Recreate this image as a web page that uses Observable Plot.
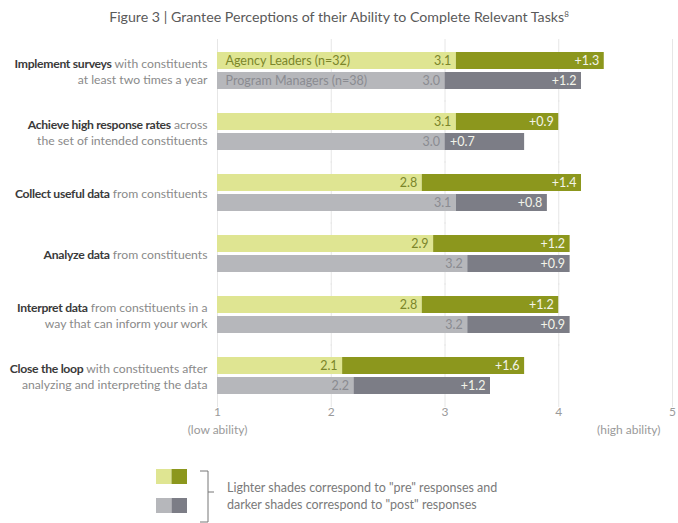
<!DOCTYPE html>
<html>
<head>
<meta charset="utf-8">
<script src="https://cdn.jsdelivr.net/npm/d3@7"></script>
<script src="https://cdn.jsdelivr.net/npm/@observablehq/plot@0.6"></script>
<style>
  html, body { margin: 0; padding: 0; background: #ffffff; }
  #wrap { position: relative; width: 678px; height: 523px; font-family: Lato, "Open Sans", sans-serif; overflow: hidden; }
  #title { position: absolute; left: 0; top: 8px; width: 678px; text-align: center; font-size: 14.2px; color: #5a5a5a; line-height: 18px; }
  #title sup { font-size: 8px; vertical-align: 5px; line-height: 0; }
  #chart { position: absolute; left: 0; top: 36px; }
  #legend { position: absolute; left: 0; top: 446px; }
</style>
</head>
<body>
<div id="wrap">
  <div id="title">Figure 3 | Grantee Perceptions of their Ability to Complete Relevant Tasks<sup>8</sup></div>
  <div id="chart"></div>
  <svg id="legend" width="678" height="77"></svg>
</div>
<script>
// ---- data ----
const tasks = ["Implement surveys", "Achieve high response rates", "Collect useful data", "Analyze data", "Interpret data", "Close the loop"];
const taskRest = [" with constituents", " across", " from constituents", " from constituents", " from constituents in a", " with constituents after"];
const taskLine2 = ["at least two times a year", "the set of intended constituents", "", "", "way that can inform your work", "analyzing and interpreting the data"];
const groups = ["Agency Leaders (n=32)", "Program Managers (n=38)"];
const agencyPre = [3.1, 3.1, 2.8, 2.9, 2.8, 2.1];
const agencyChange = [1.3, 0.9, 1.4, 1.2, 1.2, 1.6];
const managerPre = [3.0, 3.0, 3.1, 3.2, 3.2, 2.2];
const managerChange = [1.2, 0.7, 0.8, 0.9, 0.9, 1.2];
const xTicks = [1, 2, 3, 4, 5];
const scaleNotes = ["(low ability)", "(high ability)"];
const legendText = ["Lighter shades correspond to \"pre\" responses and", "darker shades correspond to \"post\" responses"];

// ---- colours ----
const lightGreen = "#dfe592", darkGreen = "#8c971d", lightGray = "#b6b7bb", darkGray = "#7c7d86";

const rows = tasks.flatMap((t, i) => [
  {task: t, group: groups[0], pre: agencyPre[i], change: agencyChange[i]},
  {task: t, group: groups[1], pre: managerPre[i], change: managerChange[i]}
]);
const labelRows = tasks.map((t, i) => ({task: t, line1: t + taskRest[i], line2: taskLine2[i]}));
const lastTask = tasks[tasks.length - 1];
const noteRows = [
  {task: lastTask, x: xTicks[0], text: scaleNotes[0]},
  {task: lastTask, x: xTicks[xTicks.length - 1], text: scaleNotes[1]}
];

const short = d => d.change < 0.75;
const groupText = ["#7b852a", "#8a8b91"];

const chart = Plot.plot({
  width: 678,
  height: 410,
  marginTop: 14,
  marginBottom: 51,
  marginLeft: 217,
  marginRight: 6,
  style: {fontFamily: "Lato, 'Open Sans', sans-serif", fontSize: "12px", background: "transparent"},
  x: {domain: [xTicks[0], xTicks[xTicks.length - 1]], ticks: xTicks, tickSize: 0, tickPadding: 13, label: null, tickFormat: d => String(d)},
  fy: {domain: tasks, paddingInner: 0.398, paddingOuter: 0, axis: null, label: null},
  y: {domain: groups, paddingInner: 0.15, paddingOuter: 0, axis: null, label: null},
  color: {
    domain: [groups[0] + "|pre", groups[0] + "|post", groups[1] + "|pre", groups[1] + "|post"],
    range: [lightGreen, darkGreen, lightGray, darkGray]
  },
  marks: [
    Plot.ruleX(xTicks, {stroke: "#e6e6e6", strokeWidth: 1, insetTop: -13, insetBottom: -13}),
    Plot.barX(rows, {fy: "task", y: "group", x1: () => xTicks[0], x2: "pre", fill: d => d.group + "|pre"}),
    Plot.barX(rows, {fy: "task", y: "group", x1: "pre", x2: d => d.pre + d.change, fill: d => d.group + "|post"}),
    // pre values
    Plot.text(rows.filter(d => d.group === groups[0]), {fy: "task", y: "group", x: "pre", text: d => d.pre.toFixed(1), dx: -5, textAnchor: "end", fill: groupText[0], fontSize: 12.5}),
    Plot.text(rows.filter(d => d.group === groups[1]), {fy: "task", y: "group", x: "pre", text: d => d.pre.toFixed(1), dx: -5, textAnchor: "end", fill: groupText[1], fontSize: 12.5}),
    // post changes
    Plot.text(rows.filter(d => !short(d)), {fy: "task", y: "group", x: d => d.pre + d.change, text: d => "+" + d.change.toFixed(1), dx: -5, textAnchor: "end", fill: "#f3f4ea", fontSize: 12.5}),
    Plot.text(rows.filter(short), {fy: "task", y: "group", x: "pre", text: d => "+" + d.change.toFixed(1), dx: 5, textAnchor: "start", fill: "#f3f4ea", fontSize: 12.5}),
    // group names in first row
    Plot.text(rows.filter(d => d.task === tasks[0] && d.group === groups[0]), {fy: "task", y: "group", x: () => xTicks[0], text: "group", dx: 8, textAnchor: "start", fill: groupText[0], fontSize: 12.5}),
    Plot.text(rows.filter(d => d.task === tasks[0] && d.group === groups[1]), {fy: "task", y: "group", x: () => xTicks[0], text: "group", dx: 8, textAnchor: "start", fill: groupText[1], fontSize: 12.5}),
    // task labels
    Plot.text(labelRows, {fy: "task", frameAnchor: "left", dx: -10, textAnchor: "end", lineAnchor: "middle", lineHeight: 1.32, fontSize: 12.2, fill: "#8a8a8a",
      text: d => d.line2 ? d.line1 + "\n" + d.line2 : d.line1}),
    // scale notes
    Plot.text(noteRows.slice(0, 1), {fy: "task", x: "x", text: "text", frameAnchor: "bottom", dy: 36, lineAnchor: "middle", textAnchor: "middle", fill: "#9a9a9a", fontSize: 12}),
    Plot.text(noteRows.slice(1), {fy: "task", x: "x", text: "text", frameAnchor: "bottom", dy: 36, dx: -12, lineAnchor: "middle", textAnchor: "end", fill: "#9a9a9a", fontSize: 12})
  ]
});

// style axis tick text
d3.select(chart).selectAll('g[aria-label="x-axis tick label"]').attr("fill", "#9a9a9a");

// bold leading part of each task label
const ns = "http://www.w3.org/2000/svg";
d3.select(chart).selectAll("text").each(function () {
  const el = this;
  const tspans = el.querySelectorAll("tspan");
  const target = tspans.length ? tspans[0] : el;
  const content = target.textContent;
  const i = labelRows.findIndex(r => r.line1 === content);
  if (i < 0) return;
  target.textContent = "";
  const b = document.createElementNS(ns, "tspan");
  b.setAttribute("font-weight", "bold");
  b.setAttribute("fill", "#3a3a3a");
  b.setAttribute("letter-spacing", "-0.3");
  b.textContent = tasks[i];
  const r = document.createElementNS(ns, "tspan");
  r.textContent = taskRest[i];
  target.appendChild(b);
  target.appendChild(r);
});

document.getElementById("chart").appendChild(chart);

// legend
const lg = d3.select("#legend");
const sw = [[lightGreen, darkGreen], [lightGray, darkGray]];
sw.forEach((pair, r) => {
  pair.forEach((c, k) => {
    lg.append("rect").attr("x", 156 + k * 15.5).attr("y", 23 + r * 29).attr("width", 15.5).attr("height", 15).attr("fill", c);
  });
});
lg.append("path").attr("d", "M200,25H208V76H200M208,46H214").attr("fill", "none").attr("stroke", "#777").attr("stroke-width", 1);
legendText.forEach((t, i) => {
  lg.append("text").attr("x", 227).attr("y", 46 + i * 16.5).attr("font-family", "Lato, 'Open Sans', sans-serif").attr("font-size", 12.5).attr("fill", "#7a7a7a").text(t);
});
</script>
</body>
</html>
